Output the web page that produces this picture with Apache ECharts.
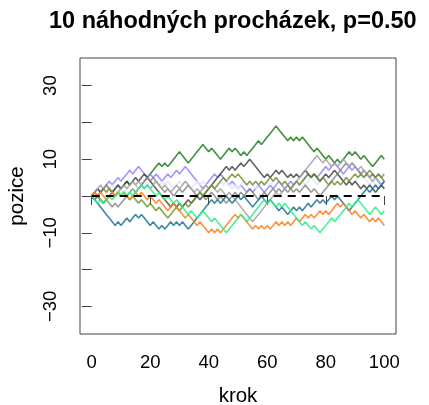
<!DOCTYPE html>
<html>
<head>
<meta charset="utf-8">
<script src="https://cdn.jsdelivr.net/npm/echarts@6/dist/echarts.min.js"></script>
<style>
  html, body { margin: 0; padding: 0; background: #ffffff; }
  #chart { width: 429px; height: 405px; }
</style>
</head>
<body>
<div id="chart"></div>
<script>
// Ten symmetric random walks (p = 0.50), 100 steps each.
const steps = Array.from({ length: 101 }, (_, i) => i);

const walkGreen = [0,-1,0,-1,-2,-1,0,1,2,3, 2,3,4,3,4,3,2,3,4,5, 6,7,8,9,8,9,8,9,10,11,
  12,11,10,9,10,11,12,13,14,13, 12,13,12,11,10,11,12,13,12,13, 12,11,12,11,12,13,14,15,14,15,
  16,17,18,19,18,17,16,15,16,15, 16,15,16,15,14,13,12,13,12,11, 10,11,10,9,10,9,10,11,12,11,
  12,11,10,11,10,9,8,9,10,11,10];
const walkPurple = [0,1,2,1,2,3,4,3,4,5, 4,5,6,7,6,7,8,7,6,5, 6,5,6,5,4,5,6,5,6,7,
  6,7,8,7,6,5,4,3,2,3, 4,5,6,5,6,5,4,3,4,3, 2,3,2,1,2,1,2,3,2,1,
  2,3,2,3,4,3,2,3,4,3, 4,3,4,5,6,5,6,5,6,7, 8,7,8,9,8,7,6,7,8,7,
  8,7,6,5,6,5,6,5,4,3,4];
const walkLavender = [0,1,0,1,2,1,2,3,2,3, 2,1,2,3,4,3,2,3,4,3, 4,3,4,3,4,3,4,3,2,3,
  4,3,4,3,2,3,4,3,4,3, 2,3,2,3,4,3,4,3,2,3, 2,3,4,3,4,3,2,3,4,3,
  4,3,4,5,4,3,4,3,2,3, 4,3,4,3,4,5,4,3,4,5, 4,5,4,5,6,5,4,5,4,3,
  4,5,6,5,4,3,4,3,2,3,2];
const walkDarkGrey = [0,1,2,1,2,3,2,1,2,3, 2,3,4,3,4,5,4,5,6,5, 4,3,2,1,0,-1,-2,-3,-2,-3,
  -2,-3,-2,-1,-2,-1,0,-1,0,1, 2,3,4,5,6,7,8,7,8,7, 8,9,8,9,10,9,8,7,6,5,
  6,5,6,7,6,7,6,5,6,5, 6,5,6,7,6,5,6,5,4,5, 6,5,6,7,6,5,4,3,4,3,
  4,3,2,3,2,3,2,1,2,3,2];
const walkGrey = [0,-1,0,-1,-2,-1,-2,-3,-2,-3, -2,-1,0,1,2,1,2,3,4,5, 4,5,4,3,2,1,2,1,0,1,
  2,1,2,3,2,1,0,1,0,-1, 0,1,0,-1,0,-1,-2,-1,0,1, 0,1,0,1,2,1,0,-1,0,1,
  0,1,2,1,2,1,2,1,2,1, 2,1,2,3,2,1,2,1,0,1, 2,3,4,5,6,7,8,9,8,9,
  8,7,6,7,6,5,6,5,6,5,6];
const walkLightGrey = [0,1,2,3,2,3,2,1,0,1, 2,3,2,3,4,3,4,3,2,3, 2,3,4,3,2,3,2,1,2,3,
  2,3,4,3,2,1,2,1,2,3, 2,3,2,1,2,1,0,1,0,-1, -2,-3,-4,-5,-6,-7,-6,-5,-4,-3,
  -2,-1,0,1,0,1,2,3,2,3, 4,5,6,7,8,9,10,11,10,9, 10,9,8,9,8,9,10,9,8,9,
  8,7,8,7,6,5,4,5,4,3,4];
const walkOlive = [0,1,0,1,2,1,2,1,0,1, 0,1,0,-1,0,-1,-2,-1,-2,-3, -2,-3,-4,-3,-4,-5,-6,-5,-4,-3,
  -4,-3,-2,-3,-2,-1,0,1,0,1, 2,3,2,3,4,5,4,5,6,5, 6,5,4,3,4,3,4,3,4,3,
  4,5,4,5,4,3,4,3,2,3, 4,3,4,5,6,5,6,5,4,5, 4,3,4,3,4,3,4,5,4,5,
  6,5,6,5,6,7,6,5,6,5,4];
const walkTeal = [0,-1,-2,-3,-4,-5,-6,-7,-8,-7, -8,-7,-6,-7,-6,-5,-6,-5,-6,-7, -8,-7,-8,-9,-8,-9,-8,-7,-8,-7,
  -8,-7,-8,-9,-8,-7,-6,-5,-4,-3, -2,-1,-2,-1,-2,-1,0,-1,-2,-1, 0,-1,0,-1,-2,-3,-2,-1,0,-1,
  -2,-1,-2,-3,-4,-3,-4,-5,-4,-3, -4,-3,-4,-3,-2,-3,-2,-1,-2,-1, -2,-1,0,-1,0,-1,-2,-3,-4,-3,
  -2,-1,0,1,2,1,2,3,2,3,4];
const walkOrange = [0,1,0,1,0,-1,0,1,0,1, 0,1,0,-1,0,1,0,1,0,-1, 0,-1,-2,-1,-2,-3,-4,-3,-2,-3,
  -4,-5,-6,-5,-6,-7,-8,-7,-8,-9, -10,-9,-10,-9,-10,-9,-8,-7,-6,-5, -6,-5,-6,-7,-8,-9,-8,-9,-8,-9,
  -8,-9,-8,-7,-8,-7,-8,-7,-8,-7, -6,-7,-6,-5,-6,-5,-6,-5,-4,-5, -4,-5,-4,-3,-2,-3,-2,-3,-4,-5,
  -4,-5,-6,-5,-6,-7,-6,-7,-6,-7,-8];
const walkSpring = [0,-1,-2,-1,-2,-1,0,-1,0,1, 0,1,0,1,0,1,2,3,2,3, 2,1,0,1,0,-1,0,-1,-2,-1,
  -2,-3,-4,-5,-4,-5,-6,-5,-4,-5, -6,-7,-6,-7,-8,-9,-10,-9,-8,-7, -6,-5,-6,-7,-6,-5,-4,-3,-2,-1,
  -2,-1,-2,-3,-2,-3,-2,-3,-4,-5, -6,-7,-8,-7,-8,-9,-8,-9,-10,-9, -8,-7,-6,-7,-6,-5,-4,-3,-2,-3,
  -2,-1,-2,-3,-4,-5,-4,-3,-4,-5,-4];

// Expected position of a fair walk
const expectedX = [0, 100];
const expectedY = [0, 0];

const xTicks = [0, 20, 40, 60, 80, 100];
const yTicks = [-30, -20, -10, 0, 10, 20, 30];
const yLabels = [-30, -10, 10, 30];

const walks = [
  { data: walkGreen,     color: 'rgba(34,125,34,0.85)' },
  { data: walkPurple,    color: 'rgba(132,112,255,0.75)' },
  { data: walkLavender,  color: 'rgba(225,230,250,0.9)' },
  { data: walkDarkGrey,  color: 'rgba(60,60,60,0.8)' },
  { data: walkGrey,      color: 'rgba(130,130,130,0.8)' },
  { data: walkLightGrey, color: 'rgba(165,165,165,0.85)' },
  { data: walkOlive,     color: 'rgba(107,142,35,0.8)' },
  { data: walkTeal,      color: 'rgba(24,116,150,0.85)' },
  { data: walkOrange,    color: 'rgba(255,127,20,0.85)' },
  { data: walkSpring,    color: 'rgba(40,240,130,0.85)' }
];

const font = '"Liberation Sans", Arial, Helvetica, sans-serif';

const series = walks.map((w) => ({
  type: 'line',
  data: steps.map((s, i) => [s, w.data[i]]),
  showSymbol: false,
  symbol: 'none',
  lineStyle: { color: w.color, width: 1.6 },
  silent: true,
  animation: false
}));

series.push({
  type: 'line',
  data: expectedX.map((x, i) => [x, expectedY[i]]),
  showSymbol: false,
  symbol: 'none',
  lineStyle: { color: '#000000', width: 2.2, type: [8, 6] },
  silent: true,
  animation: false
});

const chart = echarts.init(document.getElementById('chart'), null, { renderer: 'canvas' });
chart.setOption({
  backgroundColor: '#ffffff',
  animation: false,
  title: {
    text: '10 náhodných procházek, p=0.50',
    left: 44,
    top: 5,
    textStyle: { fontFamily: font, fontSize: 23.5, fontWeight: 'bold', color: '#000' }
  },
  grid: {
    left: 80, top: 58, width: 316, height: 276,
    containLabel: false,
    outerBoundsMode: 'none',
    show: true, borderColor: '#444', borderWidth: 1, backgroundColor: 'transparent'
  },
  xAxis: {
    type: 'value',
    min: -4, max: 104,
    name: 'krok',
    nameLocation: 'middle',
    nameGap: 52,
    nameTextStyle: { fontFamily: font, fontSize: 20.5, color: '#000' },
    axisLine: { show: false },
    axisTick: { show: true, inside: false, length: 9, customValues: xTicks,
      lineStyle: { color: '#444', width: 1 } },
    axisLabel: { customValues: xTicks, margin: 19,
      fontFamily: font, fontSize: 18.5, color: '#000' },
    splitLine: { show: false }
  },
  yAxis: {
    type: 'value',
    min: -37.5, max: 37.5,
    name: 'pozice',
    nameLocation: 'middle',
    nameRotate: 90,
    nameGap: 52,
    nameTextStyle: { fontFamily: font, fontSize: 20.5, color: '#000' },
    axisLine: { show: false },
    axisTick: { show: true, inside: false, length: 10, customValues: yTicks,
      lineStyle: { color: '#444', width: 1 } },
    axisLabel: { customValues: yLabels, rotate: 90, margin: 20,
      fontFamily: font, fontSize: 18.5, color: '#000',
      formatter: (v) => (v < 0 ? '\u2212' + Math.abs(v) : String(v)) },
    splitLine: { show: false }
  },
  series: series
});
</script>
</body>
</html>
